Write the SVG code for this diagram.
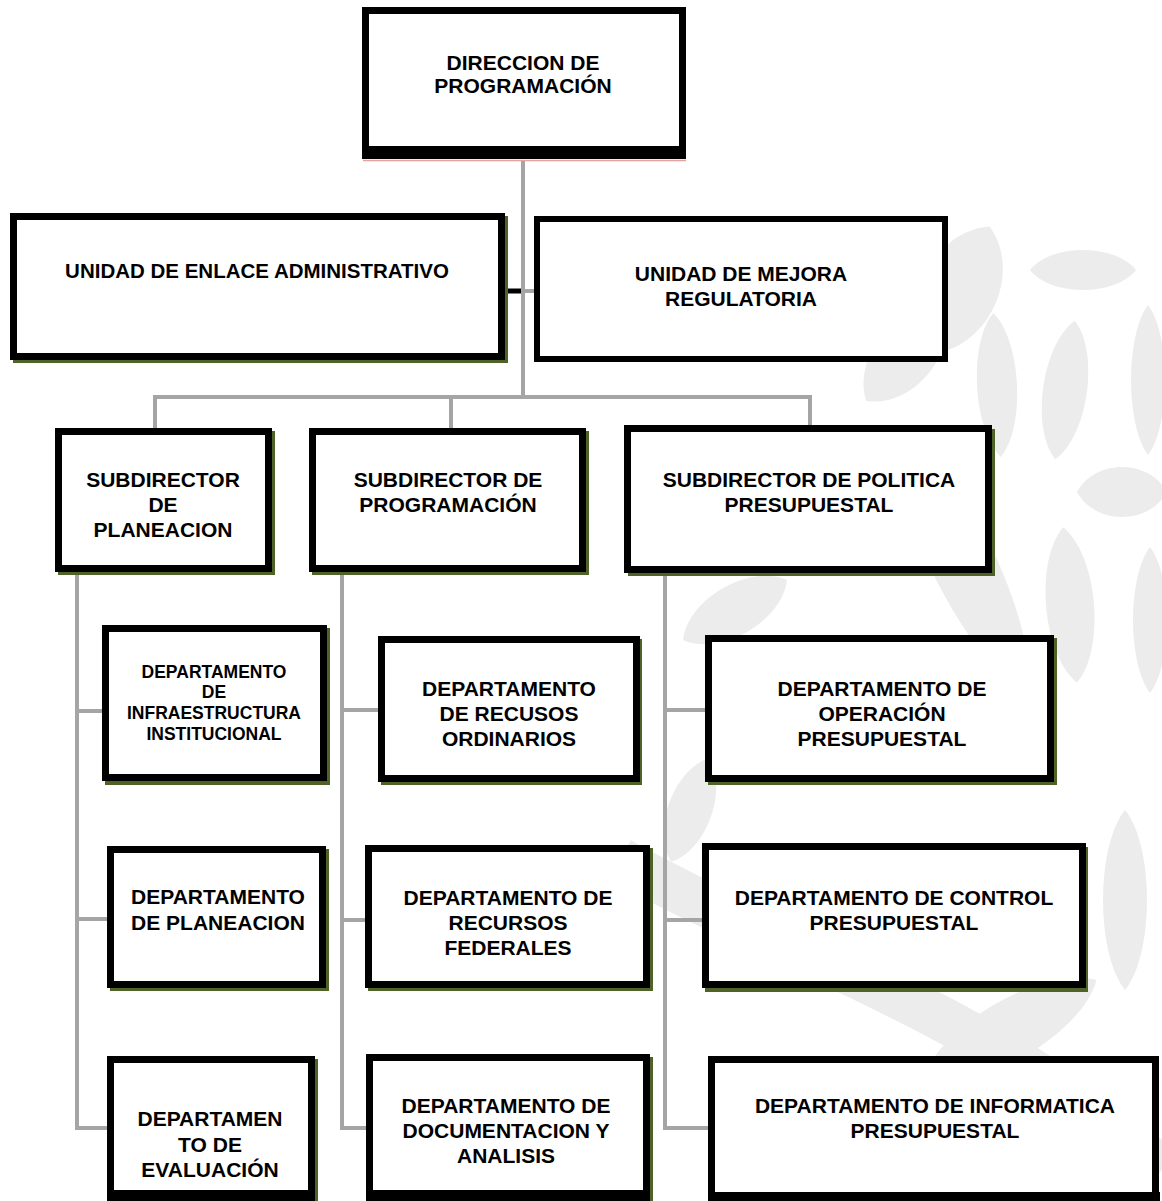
<svg xmlns="http://www.w3.org/2000/svg" xmlns:xlink="http://www.w3.org/1999/xlink" width="1162" height="1201" viewBox="0 0 1162 1201">
<style>
.t{font-family:"Liberation Sans",Arial,sans-serif;font-weight:bold;font-size:21px;fill:#000;text-anchor:middle}
.s{font-size:17.5px}
.e{font-size:20.5px}
.box{fill:#fff;stroke:#000;stroke-width:7}
.sh{fill:#4f6228}
.con{fill:none;stroke:#a5a5a5;stroke-width:4}
.wm{fill:#ececec}
</style>
<defs>
<path id="lf" d="M0,-1 C1.33,-0.6 1.33,0.6 0,1 C-1.33,0.6 -1.33,-0.6 0,-1Z"/>
</defs>
<rect width="1162" height="1201" fill="#fff"/>
<g id="watermark">
<path d="M620,860 C800,960 1000,1020 1162,1170" fill="none" stroke="#ececec" stroke-width="45"/>
<use href="#lf" class="wm" transform="translate(1083 270) rotate(90) scale(20 53)"/>
<use href="#lf" class="wm" transform="translate(960 290) rotate(25) scale(38 70)"/>
<use href="#lf" class="wm" transform="translate(997 385) rotate(-3) scale(20 72)"/>
<use href="#lf" class="wm" transform="translate(1065 390) rotate(8) scale(22 70)"/>
<use href="#lf" class="wm" transform="translate(1148 380) scale(17 75)"/>
<use href="#lf" class="wm" transform="translate(1122 492) rotate(90) scale(25 45)"/>
<use href="#lf" class="wm" transform="translate(962 560) rotate(-26) scale(32 150)"/>
<use href="#lf" class="wm" transform="translate(1070 605) rotate(-5) scale(24 78)"/>
<use href="#lf" class="wm" transform="translate(1150 620) scale(17 73)"/>
<use href="#lf" class="wm" transform="translate(905 355) rotate(40) scale(30 60)"/>
<use href="#lf" class="wm" transform="translate(735 610) rotate(60) scale(25 60)"/>
<use href="#lf" class="wm" transform="translate(1125 900) scale(22 90)"/>
<use href="#lf" class="wm" transform="translate(1010 1030) rotate(60) scale(30 100)"/>
<use href="#lf" class="wm" transform="translate(690 810) rotate(20) scale(22 55)"/>
</g>
<g id="connectors">
<path class="con" d="M523,160 V397"/>
<path class="con" d="M155,428 V397 H810 V428"/>
<path class="con" d="M451,397 V428"/>
<path d="M505,291 H521" stroke="#000" stroke-width="5"/>
<path class="con" d="M523,291 H536"/>
<path class="con" d="M77,572 V1128 H108 M77,711 H104 M77,919 H108"/>
<path class="con" d="M342,572 V1128 H367 M342,710 H379 M342,920 H366"/>
<path class="con" d="M665,574 V1128 H709 M665,710 H706 M665,920 H703"/>
</g>
<g id="n-direccion">
<rect class="box" x="365.5" y="10.5" width="317" height="143"/>
<rect x="362" y="146" width="324" height="13" fill="#000"/>
<line x1="363" y1="160.5" x2="686" y2="160.5" stroke="#e8a0a0" stroke-width="1.5"/>
<text class="t" x="523" y="70">DIRECCION DE</text>
<text class="t" x="523" y="93">PROGRAMACIÓN</text>
</g>
<g id="n-enlace">
<rect class="sh" x="13" y="216" width="495" height="147"/>
<rect class="box" x="13.5" y="216.5" width="488" height="140"/>
<text class="t e" x="257" y="278">UNIDAD DE ENLACE ADMINISTRATIVO</text>
</g>
<g id="n-mejora">
<rect class="box" x="537" y="219" width="408" height="140" style="stroke-width:6"/>
<text class="t" x="741" y="281">UNIDAD DE MEJORA</text>
<text class="t" x="741" y="306">REGULATORIA</text>
</g>
<g id="n-sub-planeacion">
<rect class="sh" x="58" y="431" width="217" height="144"/>
<rect class="box" x="58.5" y="431.5" width="210" height="137"/>
<text class="t" x="163" y="487">SUBDIRECTOR</text>
<text class="t" x="163" y="512">DE</text>
<text class="t" x="163" y="537">PLANEACION</text>
</g>
<g id="n-sub-programacion">
<rect class="sh" x="312" y="431" width="277" height="144"/>
<rect class="box" x="312.5" y="431.5" width="270" height="137"/>
<text class="t" x="448" y="487">SUBDIRECTOR DE</text>
<text class="t" x="448" y="512">PROGRAMACIÓN</text>
</g>
<g id="n-sub-politica">
<rect class="sh" x="628" y="429" width="367" height="147"/>
<rect class="box" x="627.5" y="428.5" width="361" height="141"/>
<text class="t" x="809" y="487">SUBDIRECTOR DE POLITICA</text>
<text class="t" x="809" y="512">PRESUPUESTAL</text>
</g>
<g id="n-infraestructura">
<rect class="sh" x="105" y="628" width="225" height="157"/>
<rect class="box" x="105.5" y="628.5" width="218" height="149"/>
<text class="t s" x="214" y="678">DEPARTAMENTO</text>
<text class="t s" x="214" y="698">DE</text>
<text class="t s" x="214" y="719">INFRAESTRUCTURA</text>
<text class="t s" x="214" y="740">INSTITUCIONAL</text>
</g>
<g id="n-planeacion">
<rect class="sh" x="110" y="849" width="219" height="142"/>
<rect class="box" x="110.5" y="849.5" width="212" height="135"/>
<text class="t" x="218" y="904">DEPARTAMENTO</text>
<text class="t" x="218" y="930">DE PLANEACION</text>
</g>
<g id="n-evaluacion">
<rect class="sh" x="110" y="1059" width="208" height="145"/>
<rect class="box" x="110.5" y="1059.5" width="201" height="134"/>
<rect x="107" y="1190" width="208" height="11" fill="#000"/>
<text class="t" x="210" y="1126">DEPARTAMEN</text>
<text class="t" x="210" y="1152">TO DE</text>
<text class="t" x="210" y="1177">EVALUACIÓN</text>
</g>
<g id="n-ordinarios">
<rect class="sh" x="381" y="639" width="261" height="146"/>
<rect class="box" x="381.5" y="639.5" width="255" height="139"/>
<text class="t" x="509" y="696">DEPARTAMENTO</text>
<text class="t" x="509" y="721">DE RECUSOS</text>
<text class="t" x="509" y="746">ORDINARIOS</text>
</g>
<g id="n-federales">
<rect class="sh" x="368" y="848" width="285" height="143"/>
<rect class="box" x="368.5" y="848.5" width="278" height="136"/>
<text class="t" x="508" y="905">DEPARTAMENTO DE</text>
<text class="t" x="508" y="930">RECURSOS</text>
<text class="t" x="508" y="955">FEDERALES</text>
</g>
<g id="n-documentacion">
<rect class="sh" x="369" y="1057" width="284" height="147"/>
<rect class="box" x="369.5" y="1057.5" width="277" height="137"/>
<rect x="366" y="1190" width="284" height="11" fill="#000"/>
<text class="t" x="506" y="1113">DEPARTAMENTO DE</text>
<text class="t" x="506" y="1138">DOCUMENTACION Y</text>
<text class="t" x="506" y="1163">ANALISIS</text>
</g>
<g id="n-operacion">
<rect class="sh" x="708" y="638" width="349" height="147"/>
<rect class="box" x="708.5" y="638.5" width="342" height="140"/>
<text class="t" x="882" y="696">DEPARTAMENTO DE</text>
<text class="t" x="882" y="721">OPERACIÓN</text>
<text class="t" x="882" y="746">PRESUPUESTAL</text>
</g>
<g id="n-control">
<rect class="sh" x="705" y="847" width="383" height="145"/>
<rect class="box" x="705.5" y="846.5" width="377" height="138"/>
<text class="t" x="894" y="905">DEPARTAMENTO DE CONTROL</text>
<text class="t" x="894" y="930">PRESUPUESTAL</text>
</g>
<g id="n-informatica">
<rect class="box" x="711.5" y="1059.5" width="444" height="145"/>
<rect x="708" y="1192" width="452" height="9" fill="#000"/>
<text class="t" x="935" y="1113">DEPARTAMENTO DE INFORMATICA</text>
<text class="t" x="935" y="1138">PRESUPUESTAL</text>
</g>
</svg>
